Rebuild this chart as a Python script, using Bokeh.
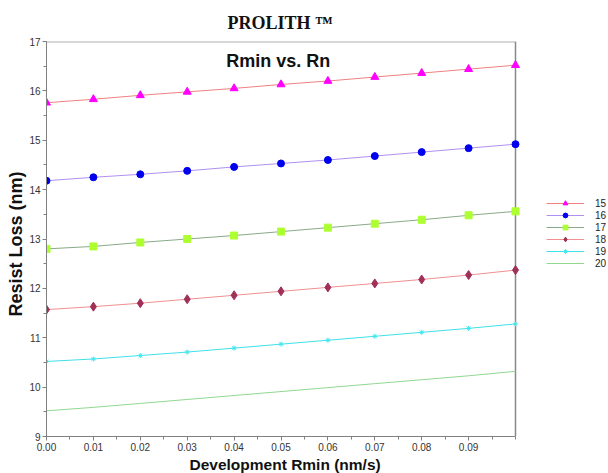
from bokeh.plotting import figure
from bokeh.models import (Range1d, FixedTicker, Legend, LegendItem, Label, Title)
from bokeh.embed import file_html
from bokeh.resources import INLINE

rmin = [0.00, 0.01, 0.02, 0.03, 0.04, 0.05, 0.06, 0.07, 0.08, 0.09, 0.10]
x_tick_values = [0.00, 0.01, 0.02, 0.03, 0.04, 0.05, 0.06, 0.07, 0.08, 0.09]
x_tick_labels = ["0.00", "0.01", "0.02", "0.03", "0.04", "0.05", "0.06", "0.07", "0.08", "0.09"]
y_tick_values = [9, 10, 11, 12, 13, 14, 15, 16, 17]
x_bounds = [0.0, 0.1]
y_bounds = [9, 17]

rn_names = ["15", "16", "17", "18", "19", "20"]
loss_15 = [15.76, 15.83, 15.91, 15.98, 16.05, 16.13, 16.20, 16.28, 16.36, 16.44, 16.52]
loss_16 = [14.18, 14.25, 14.31, 14.38, 14.46, 14.53, 14.60, 14.68, 14.76, 14.84, 14.92]
loss_17 = [12.80, 12.85, 12.93, 13.00, 13.07, 13.15, 13.23, 13.31, 13.39, 13.48, 13.56]
loss_18 = [11.57, 11.63, 11.70, 11.78, 11.86, 11.94, 12.02, 12.10, 12.18, 12.27, 12.37]
loss_19 = [10.52, 10.57, 10.64, 10.71, 10.79, 10.87, 10.95, 11.03, 11.11, 11.19, 11.28]
loss_20 = [9.52, 9.59, 9.67, 9.75, 9.83, 9.91, 9.99, 10.07, 10.15, 10.23, 10.32]
series = [loss_15, loss_16, loss_17, loss_18, loss_19, loss_20]

line_colors = ["#f08080", "#b090f0", "#88aa88", "#f09090", "#40e0e8", "#90d890"]
marker_colors = ["#ff00ff", "#0000ee", "#adff2f", "#a03058", "#40e8f0", None]
marker_types = ["triangle", "circle", "square", "diamond", "asterisk", None]
marker_sizes = [8, 7, 7, 9, 5, 0]

FONT = "Liberation Sans"

# frame extends past x=0.1 so that the legend (drawn inside the frame) is not clipped
PLOT_W_PX = 469      # width of the 0..0.1 data area
FRAME_W_PX = 562     # full frame width
x_end = x_bounds[1] * FRAME_W_PX / PLOT_W_PX

p = figure(width=608, height=473, output_backend="svg", toolbar_location=None,
           x_range=Range1d(x_bounds[0], x_end), y_range=Range1d(y_bounds[0], y_bounds[1]),
           min_border_left=46, min_border_right=0, min_border_top=41,
           min_border_bottom=37)
p.background_fill_color = "white"
p.border_fill_color = "white"
p.outline_line_color = None
p.xgrid.visible = False
p.ygrid.visible = False

minor_x = [i * 0.005 for i in range(21)]
p.xaxis.ticker = FixedTicker(ticks=x_tick_values, minor_ticks=minor_x)
p.xaxis.major_label_overrides = {v: l for v, l in zip(x_tick_values, x_tick_labels)}
p.xaxis.bounds = (x_bounds[0], x_bounds[1])
p.yaxis.ticker = FixedTicker(ticks=y_tick_values,
                             minor_ticks=[9 + 0.5 * i for i in range(17)])

for ax in (p.xaxis, p.yaxis):
    ax.axis_line_color = "#808080"
    ax.major_tick_line_color = "#808080"
    ax.minor_tick_line_color = "#808080"
    ax.major_tick_out = 4
    ax.major_tick_in = 0
    ax.minor_tick_out = 3
    ax.minor_tick_in = 0
    ax.major_label_text_font = FONT
    ax.major_label_text_font_size = "10px"
    ax.major_label_text_color = "#333333"
p.xaxis.major_label_standoff = 2
p.yaxis.major_label_standoff = 2

# plot box: top edge and right edge
p.segment(x0=[x_bounds[0]], y0=[y_bounds[1]], x1=[x_bounds[1]], y1=[y_bounds[1]],
          line_color="#b0b0b0", line_width=2)
p.segment(x0=[x_bounds[1]], y0=[y_bounds[0]], x1=[x_bounds[1]], y1=[y_bounds[1]],
          line_color="#888888", line_width=1.5)

items = []
for name, ys, lc, mc, mt, ms in zip(rn_names, series, line_colors, marker_colors,
                                    marker_types, marker_sizes):
    r_line = p.line(rmin, ys, line_color=lc, line_width=1)
    rends = [r_line]
    if mt is not None:
        r_m = p.scatter(rmin, ys, marker=mt, size=ms, fill_color=mc, line_color=mc)
        rends.append(r_m)
    items.append(LegendItem(label=name, renderers=rends))

legend = Legend(items=items, location=(500, 167), padding=0, margin=0, spacing=0,
                glyph_width=38, glyph_height=12, label_height=12,
                label_standoff=11, label_text_font=FONT, label_text_font_size="10px",
                label_text_color="#222222", border_line_color=None,
                background_fill_alpha=0)
p.add_layout(legend, "center")

# top title
p.add_layout(Title(text="PROLITH \u2122", align="left", offset=181, standoff=17,
                   text_font="Liberation Serif", text_font_style="bold",
                   text_font_size="18px", text_color="#111111"), "above")
# x axis title
p.add_layout(Title(text="Development Rmin (nm/s)", align="left", offset=143, standoff=0,
                   text_font=FONT, text_font_style="bold",
                   text_font_size="15.5px", text_color="#111111"), "below")
# y axis title
p.add_layout(Title(text="Resist Loss (nm)", align="left", offset=120, standoff=2,
                   text_font=FONT, text_font_style="bold",
                   text_font_size="18px", text_color="#111111"), "left")

p.add_layout(Label(x=0.0494, y=16.615, text="Rmin vs. Rn", text_align="center",
                   text_baseline="middle", text_font=FONT, text_font_style="bold",
                   text_font_size="18px", text_color="#111111"))

open("out.html", "w").write(file_html(p, INLINE))
